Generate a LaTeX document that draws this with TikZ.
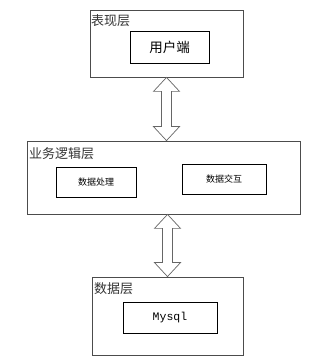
\documentclass[tikz,border=0pt]{standalone}
\usepackage{fontspec}
\setmainfont{Liberation Serif}
\newfontfamily\cjk{Noto Sans CJK SC}
\newfontfamily\monof{Liberation Mono}
\usetikzlibrary{calc}
\begin{document}
\begin{tikzpicture}[x=1pt,y=1pt,
  outerbox/.style={draw=black!70,line width=0.8pt,minimum width=#1,inner sep=0pt},
  innerbox/.style={draw=black,line width=0.8pt,inner sep=0pt},
  layerlabel/.style={anchor=west,inner sep=0pt,font=\cjk\fontsize{13}{13}\selectfont,text=black!80},
  arr/.style={draw=black!60,fill=white,line width=0.7pt,line join=miter}]
\useasboundingbox (0,0) rectangle (321,362);
\fill[white] (0,0) rectangle (321,362);
% top layer
\node[outerbox=153pt,minimum height=67pt] (top) at (166.5,318.5) {};
\node[innerbox,minimum width=79pt,minimum height=32pt,font=\cjk\fontsize{13.5}{14}\selectfont] (client) at (169.5,315) {用户端};
\node[layerlabel] (toplabel) at (91,341) {表现层};
% middle layer
\node[outerbox=273pt,minimum height=73pt] (mid) at (163.5,184.5) {};
\node[innerbox,minimum width=80pt,minimum height=30pt,font=\cjk\fontsize{9}{9}\selectfont] (proc) at (96,180) {数据处理};
\node[innerbox,minimum width=84pt,minimum height=30pt,font=\cjk\fontsize{9}{9}\selectfont] (inter) at (224,183) {数据交互};
\node[layerlabel] (midlabel) at (29,208.5) {业务逻辑层};
% bottom layer
\node[outerbox=151pt,minimum height=78pt] (bot) at (167.5,46) {};
\node[innerbox,minimum width=94pt,minimum height=31pt,font=\monof\fontsize{11.5}{12}\selectfont] (mysql) at (170,44.5) {Mysql};
\node[layerlabel] (botlabel) at (94,73.5) {数据层};
% double arrows
\draw[arr] let \p1=(top.south), \p2=(top.south |- mid.north) in
  (\x1,\y1) -- (\x1+13,\y1-14) -- (\x1+5,\y1-14) -- (\x1+5,\y2+14) -- (\x1+13,\y2+14)
  -- (\x1,\y2) -- (\x1-13,\y2+14) -- (\x1-5,\y2+14) -- (\x1-5,\y1-14) -- (\x1-13,\y1-14) -- cycle;
\draw[arr] let \p1=(bot.north), \p2=(bot.north |- mid.south) in
  (\x1,\y1) -- (\x1+13,\y1+14) -- (\x1+5,\y1+14) -- (\x1+5,\y2-14) -- (\x1+13,\y2-14)
  -- (\x1,\y2) -- (\x1-13,\y2-14) -- (\x1-5,\y2-14) -- (\x1-5,\y1+14) -- (\x1-13,\y1+14) -- cycle;
\end{tikzpicture}
\end{document}
